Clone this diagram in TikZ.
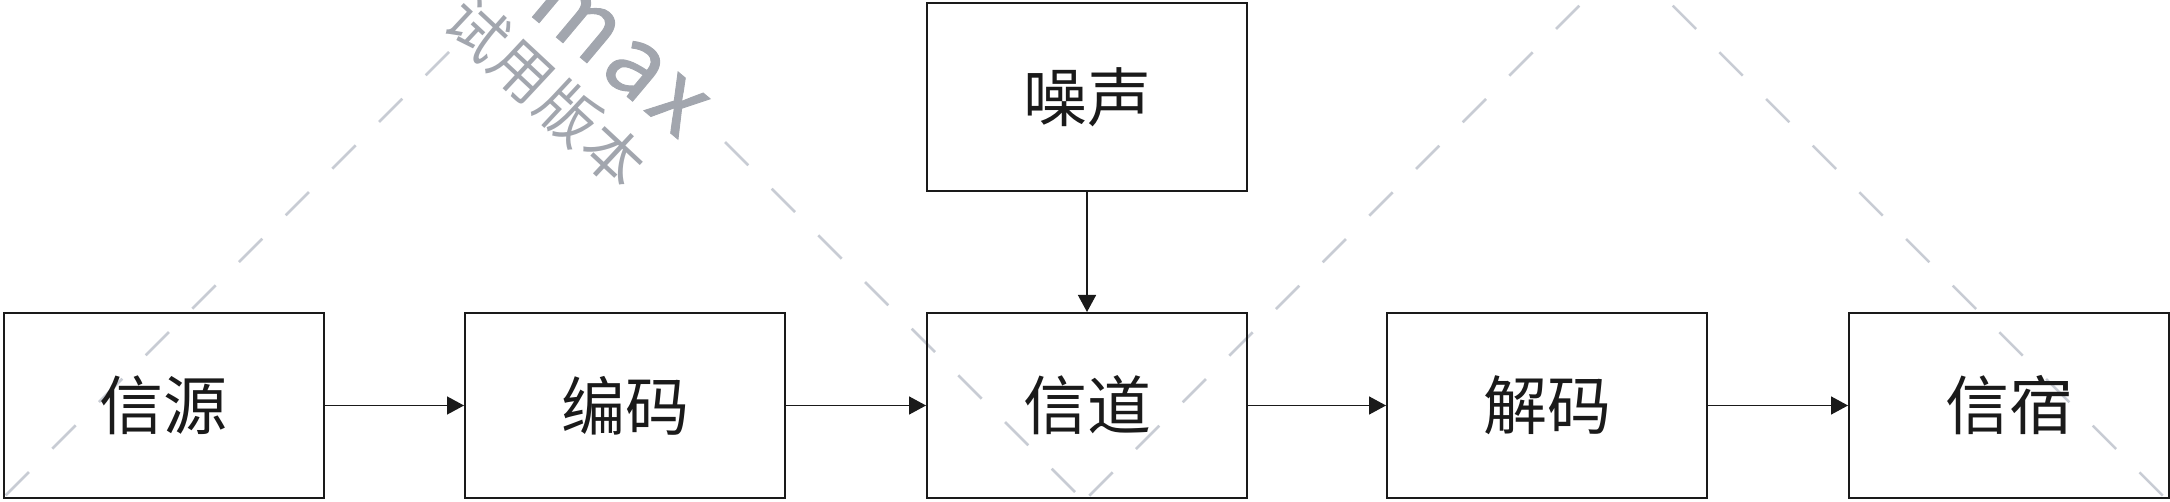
\documentclass[tikz,border=0pt]{standalone}
\usepackage{fontspec}
\newfontfamily\cjk{Noto Sans CJK SC}
\newfontfamily\cjkspaced[LetterSpace=4]{Noto Sans CJK SC}
\newfontfamily\latinwm[LetterSpace=6, FakeBold=1]{Noto Sans CJK SC}
\usetikzlibrary{arrows.meta}

\begin{document}
\begin{tikzpicture}[x=1pt, y=-1pt]


\def\boxW{320}
\def\boxH{185}
\def\lineWidth{2}
\def\textsize{64}
\definecolor{inkblack}{RGB}{26,26,26}
\definecolor{wmline}{RGB}{200,204,212}
\definecolor{wmtext}{RGB}{162,166,174}

\tikzset{
  block/.style={draw=inkblack, line width=\lineWidth pt, minimum width=\boxW pt, minimum height=\boxH pt,
    inner sep=0pt, text=inkblack, font=\cjk\fontsize{\textsize}{\textsize}\selectfont},
  flow/.style={draw=inkblack, line width=1.5pt, -{Triangle[length=17pt, width=18pt]}},
  wmdash/.style={wmline, line width=2.5pt, dash pattern=on 33pt off 33pt},
  wmlabel/.style={text=wmtext, inner sep=0pt}
}

\useasboundingbox (0,0) rectangle (2170,502);

\coordinate (peak-left) at (542,-41);
\coordinate (peak-right) at (1626,-41);
\coordinate (foot-left) at (0,501);
\coordinate (foot-mid) at (1084,501);
\coordinate (foot-right) at (2168,501);


%WATERMARK

\begin{scope}
\clip (0,0) rectangle (2170,502);
\draw[wmdash] (449,52) -- (foot-left);
\draw[wmdash] (725,142) -- (foot-mid);
\draw[wmdash] (peak-right) -- (foot-mid);
\draw[wmdash] (peak-right) -- (foot-right);
\node[wmlabel, rotate=-40, font=\latinwm\fontsize{95}{95}\selectfont] (wm-max) at (619,56) {max};
\node[wmlabel, rotate=-43, font=\cjkspaced\fontsize{60}{60}\selectfont] (wm-trial) at (546,92) {试用版本};
\end{scope}


%DRAW

\node[block] (source) at (163.5,405.5) {信源};
\node[block] (encoder) at (625,405.5) {编码};
\node[block] (channel) at (1087,405.5) {信道};
\node[block] (decoder) at (1547,405.5) {解码};
\node[block] (sink) at (2009,405.5) {信宿};
\node[block, minimum height=188pt] (noise) at (1087,97) {噪声};

\draw[flow] (source) -- (encoder);
\draw[flow] (encoder) -- (channel);
\draw[flow] (channel) -- (decoder);
\draw[flow] (decoder) -- (sink);
\draw[flow] (noise) -- (channel);


\end{tikzpicture}
\end{document}
